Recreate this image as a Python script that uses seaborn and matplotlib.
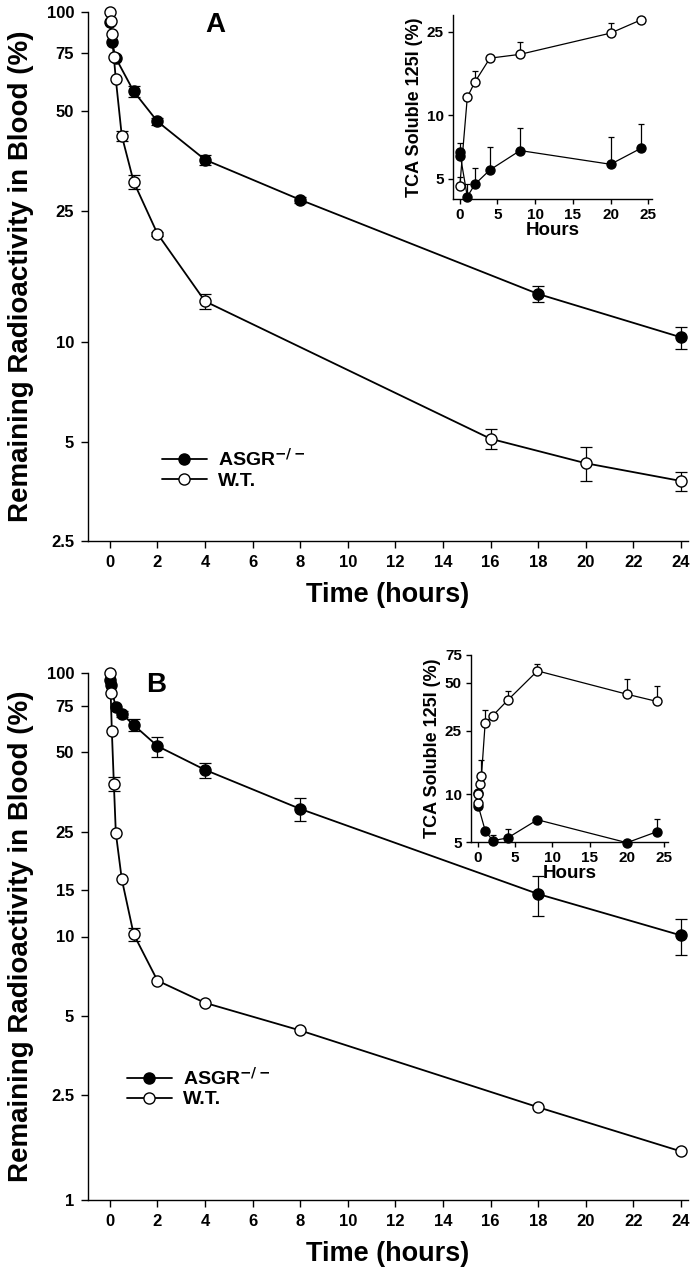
"""
plot.py - clearance of radioactivity from blood, ASGR-/- vs W.T. (panels A and B, with TCA insets)
"""
import numpy as np
import pandas as pd
import matplotlib
matplotlib.use("Agg")
import matplotlib.pyplot as plt
from matplotlib.lines import Line2D
from matplotlib.ticker import FixedLocator, FixedFormatter, NullLocator
import seaborn as sns

# ---- panel A, main ----
a_t_ko = [0, 0.083, 0.25, 1, 2, 4, 8, 18, 24]
a_ko = [93, 81, 72.5, 57.5, 46.6, 35.7, 27.0, 14.0, 10.35]
a_ko_err = [0, 0, 0, 2.3, 1.2, 1.2, 0.6, 0.8, 0.8]
a_t_wt = [0, 0.033, 0.083, 0.167, 0.25, 0.5, 1, 2, 4, 16, 20, 24]
a_wt = [100, 94, 86, 73, 62.5, 42.2, 30.6, 21.3, 13.3, 5.1, 4.3, 3.8]
a_wt_err = [0, 0, 0, 0, 0, 1.5, 1.5, 0.3, 0.7, 0.35, 0.5, 0.25]

# ---- panel A, inset (TCA soluble) ----
ia_t_ko = [0, 0.083, 1, 2, 4, 8, 20, 24]
ia_ko = [6.7, 6.4, 4.1, 4.7, 5.5, 6.8, 5.85, 6.96]
ia_ko_err = [0.7, 0, 0.6, 0.9, 1.6, 1.9, 2.0, 2.1]
ia_t_wt = [0, 1, 2, 4, 8, 20, 24]
ia_wt = [4.6, 12.2, 14.4, 18.7, 19.5, 24.6, 28.4]
ia_wt_err = [0.5, 0, 1.8, 0, 2.8, 2.8, 0]

# ---- panel B, main ----
b_t_ko = [0, 0.033, 0.25, 0.5, 1, 2, 4, 8, 18, 24]
b_ko = [94, 90, 74, 70, 63.5, 52.8, 42.9, 30.5, 14.5, 10.1]
b_ko_err = [0, 0, 0, 2, 3.5, 4.6, 2.8, 3.0, 2.5, 1.6]
b_t_wt = [0, 0.033, 0.083, 0.167, 0.25, 0.5, 1, 2, 4, 8, 18, 24]
b_wt = [100, 84, 60, 38, 24.7, 16.5, 10.2, 6.8, 5.6, 4.4, 2.25, 1.53]
b_wt_err = [0, 0, 0, 2.3, 0, 0, 0.6, 0, 0, 0, 0, 0]

# ---- panel B, inset ----
ib_t_ko = [0, 0.083, 1, 2, 4, 8, 20, 24]
ib_ko = [10.1, 8.4, 5.9, 5.1, 5.3, 6.9, 4.95, 5.8]
ib_ko_err = [0, 0, 0, 0.4, 0.7, 0, 0, 1.2]
ib_t_wt = [0, 0.083, 0.25, 0.5, 1, 2, 4, 8, 20, 24]
ib_wt = [8.8, 10, 11.6, 13.0, 28.1, 31.1, 38.9, 59.6, 42.5, 38.3]
ib_wt_err = [0, 0, 0, 3.5, 5.5, 0, 5.5, 6.4, 10.5, 9.4]

main_xticks = list(range(0, 25, 2))
a_yticks = [2.5, 5, 10, 25, 50, 75, 100]
b_yticks = [1, 2.5, 5, 10, 15, 25, 50, 75, 100]
ia_yticks = [5, 10, 25]
ib_yticks = [5, 10, 25, 50, 75]
inset_xticks = [0, 5, 10, 15, 20, 25]

sns.set_theme(style="ticks")
plt.rcParams['font.family'] = ['Liberation Sans', 'DejaVu Sans']
plt.rcParams.update({'font.weight': 'bold', 'text.color': 'black',
                     'axes.labelcolor': 'black', 'xtick.color': 'black',
                     'ytick.color': 'black'})

fig = plt.figure(figsize=(6.9, 12.8), dpi=100)


def fmt(v):
    return f"{v:g}"


def serie(ax, t, y, err, filled, ms, lw, capsize, upper_only=False):
    df = pd.DataFrame({"t": t, "y": y})
    sns.lineplot(data=df, x="t", y="y", ax=ax, color="black", lw=lw, marker="o",
                 markersize=ms, markerfacecolor="black" if filled else "white",
                 markeredgecolor="black", markeredgewidth=1.0, sort=False,
                 clip_on=False, zorder=3)
    e = np.asarray(err, dtype=float)
    m = e > 0
    if m.any():
        yy = np.asarray(y, dtype=float)[m]
        tt = np.asarray(t, dtype=float)[m]
        lower = np.zeros_like(e[m]) if upper_only else e[m]
        ax.errorbar(tt, yy, yerr=[lower, e[m]], fmt="none", ecolor="black",
                    elinewidth=0.9, capsize=capsize, capthick=0.9, zorder=2)


def estilo(ax, yticks, ylim, xlim, xticks, tsize):
    ax.set_yscale("log")
    ax.set_ylim(*ylim)
    ax.set_xlim(*xlim)
    ax.yaxis.set_major_locator(FixedLocator(yticks))
    ax.yaxis.set_major_formatter(FixedFormatter([fmt(v) for v in yticks]))
    ax.yaxis.set_minor_locator(NullLocator())
    ax.set_xticks(xticks)
    ax.set_xticklabels([str(v) for v in xticks])
    sns.despine(ax=ax)
    for s in ("left", "bottom"):
        ax.spines[s].set_linewidth(1.0)
        ax.spines[s].set_color("black")
    ax.tick_params(direction="out", length=5, width=1.0, colors="black",
                   labelsize=tsize, pad=5)
    for lab in ax.get_xticklabels() + ax.get_yticklabels():
        lab.set_fontweight("bold")
    ax.set_facecolor("none")


def painel(rect, letra, letra_xy, tk, ko, ko_e, tw, wt, wt_e, yticks, ylim, leg_y):
    ax = fig.add_axes(rect)
    serie(ax, tk, ko, ko_e, True, 8, 1.3, 4)
    serie(ax, tw, wt, wt_e, False, 8, 1.3, 4)
    estilo(ax, yticks, ylim, (-0.92, 24.3), main_xticks, 12)
    ax.set_xlabel("Time (hours)", fontsize=19.5, fontweight="bold", labelpad=9)
    ax.set_ylabel("Remaining Radioactivity in Blood (%)", fontsize=20,
                  fontweight="bold", labelpad=9)
    ax.text(*letra_xy, letra, transform=ax.transAxes, fontsize=20,
            fontweight="bold", ha="left", va="center")
    handles = [Line2D([], [], color="black", lw=1.3, marker="o", ms=8, mfc="black", mec="black"),
               Line2D([], [], color="black", lw=1.3, marker="o", ms=8, mfc="white", mec="black")]
    ax.legend(handles, ["ASGR$^{\\mathbf{-/-}}$", "W.T."], loc="upper left",
              bbox_to_anchor=leg_y, frameon=False, handlelength=2.3,
              prop={"weight": "bold", "size": 14}, labelspacing=0.12,
              handletextpad=0.6, borderaxespad=0)
    ax.legend_.set_zorder(5)
    return ax


def inset(rect, tk, ko, ko_e, tw, wt, wt_e, yticks, ylim):
    ax = fig.add_axes(rect)
    serie(ax, tk, ko, ko_e, True, 6.5, 0.9, 2, upper_only=True)
    serie(ax, tw, wt, wt_e, False, 6.5, 0.9, 2, upper_only=True)
    estilo(ax, yticks, ylim, (-0.9, 25.5), inset_xticks, 11)
    ax.tick_params(length=3.5, pad=3)
    ax.set_xlabel("Hours", fontsize=13.5, fontweight="bold", labelpad=0)
    ax.set_ylabel("TCA Soluble 125I (%)", fontsize=13, fontweight="bold", labelpad=3)
    return ax


# panel A
painel([88 / 690, 1 - 541 / 1280, 600 / 690, 529 / 1280], "A", (0.195, 0.975),
       a_t_ko, a_ko, a_ko_err, a_t_wt, a_wt, a_wt_err,
       a_yticks, (2.5, 100), (0.11, 0.19))
inset([453 / 690, 1 - 199 / 1280, 199 / 690, 184 / 1280],
      ia_t_ko, ia_ko, ia_ko_err, ia_t_wt, ia_wt, ia_wt_err, ia_yticks, (4, 30))

# panel B
painel([88 / 690, 1 - 1200 / 1280, 600 / 690, 527 / 1280], "B", (0.097, 0.978),
       b_t_ko, b_ko, b_ko_err, b_t_wt, b_wt, b_wt_err,
       b_yticks, (1, 100), (0.052, 0.268))
inset([471 / 690, 1 - 842 / 1280, 197 / 690, 187 / 1280],
      ib_t_ko, ib_ko, ib_ko_err, ib_t_wt, ib_wt, ib_wt_err, ib_yticks, (5, 75))

fig.savefig("out.png", dpi=100, facecolor="white")
plt.close(fig)
print("[OK] out.png")
